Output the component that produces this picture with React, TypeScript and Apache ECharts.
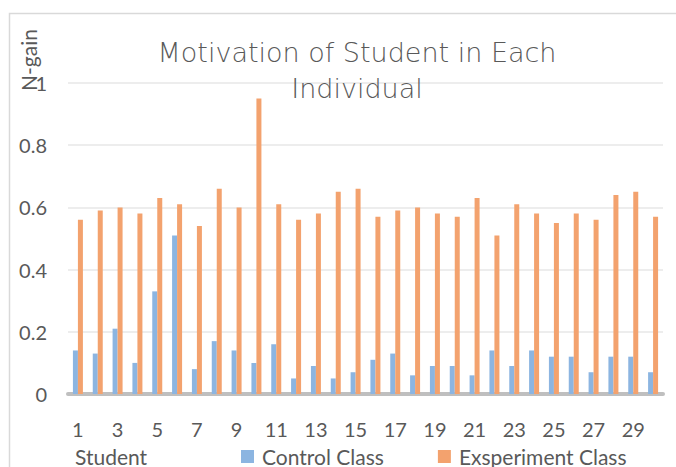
import React, { useEffect, useRef } from "react";
import * as echarts from "echarts";

const students = Array.from({ length: 30 }, (_, i) => String(i + 1));
const controlClass = [
  0.14, 0.13, 0.21, 0.1, 0.33, 0.51, 0.08, 0.17, 0.14, 0.1,
  0.16, 0.05, 0.09, 0.05, 0.07, 0.11, 0.13, 0.06, 0.09, 0.09,
  0.06, 0.14, 0.09, 0.14, 0.12, 0.12, 0.07, 0.12, 0.12, 0.07,
];
const experimentClass = [
  0.56, 0.59, 0.6, 0.58, 0.63, 0.61, 0.54, 0.66, 0.6, 0.95,
  0.61, 0.56, 0.58, 0.65, 0.66, 0.57, 0.59, 0.6, 0.58, 0.57,
  0.63, 0.51, 0.61, 0.58, 0.55, 0.58, 0.56, 0.64, 0.65, 0.57,
];
const seriesNames = ["Control Class", "Exsperiment Class"];
const titleText = "Motivation of Student in Each\nIndividual";

const FONT = "Lato, 'Open Sans', sans-serif";
const TXT = "#595959";

export default function App() {
  const ref = useRef<HTMLDivElement>(null);
  useEffect(() => {
    const chart = echarts.init(ref.current!, null, { renderer: "svg" });
    chart.setOption({
      animation: false,
      backgroundColor: "#ffffff",
      title: {
        text: titleText,
        left: 352,
        top: 29,
        textAlign: "center",
        textStyle: {
          fontFamily: "'DejaVu Sans', sans-serif",
          fontWeight: 200,
          fontSize: 27,
          lineHeight: 36,
          color: TXT,
        },
      },
      grid: { left: 68, right: 13, top: 83, bottom: 73 },
      legend: {
        left: 236,
        top: 441,
        itemWidth: 13,
        itemHeight: 13,
        itemGap: 54,
        icon: "rect",
        data: seriesNames,
        textStyle: { fontFamily: FONT, fontSize: 21, color: TXT, padding: [0, 0, 0, 3] },
      },
      xAxis: {
        type: "category",
        data: students,
        axisLine: { lineStyle: { color: "#BFBFBF", width: 4 } },
        axisTick: { show: false },
        axisLabel: {
          interval: 1,
          margin: 25,
          fontFamily: FONT,
          fontSize: 20,
          color: TXT,
        },
      },
      yAxis: {
        type: "value",
        min: 0,
        max: 1,
        interval: 0.2,
        axisLine: { show: false },
        axisTick: { show: false },
        splitLine: { lineStyle: { color: "#EDEDED", width: 2 } },
        axisLabel: { margin: 21, fontFamily: FONT, fontSize: 20, color: TXT },
      },
      series: [
        {
          name: seriesNames[0],
          type: "bar",
          data: controlClass,
          barWidth: 5,
          barGap: "0%",
          itemStyle: { color: "#8CB5E1" },
        },
        {
          name: seriesNames[1],
          type: "bar",
          data: experimentClass,
          barWidth: 5,
          barGap: "0%",
          itemStyle: { color: "#F3A26E" },
        },
      ],
      graphic: [
        {
          type: "rect",
          left: 7,
          top: 11,
          shape: { width: 700, height: 500 },
          style: { fill: "none", stroke: "#D9D9D9", lineWidth: 1.5 },
          silent: true,
        },
        {
          type: "text",
          x: 28,
          y: 60,
          rotation: Math.PI / 2,
          style: {
            text: "N-gain",
            fontFamily: FONT,
            fontSize: 21,
            fill: TXT,
            align: "center",
            verticalAlign: "middle",
          },
        },
        {
          type: "text",
          left: 75,
          top: 446,
          style: { text: "Student", fontFamily: FONT, fontSize: 21, fill: TXT },
        },
      ],
    });
    return () => chart.dispose();
  }, []);
  return (
    <div
      ref={ref}
      style={{ position: "fixed", left: 0, top: 0, width: 676, height: 467 }}
    />
  );
}
